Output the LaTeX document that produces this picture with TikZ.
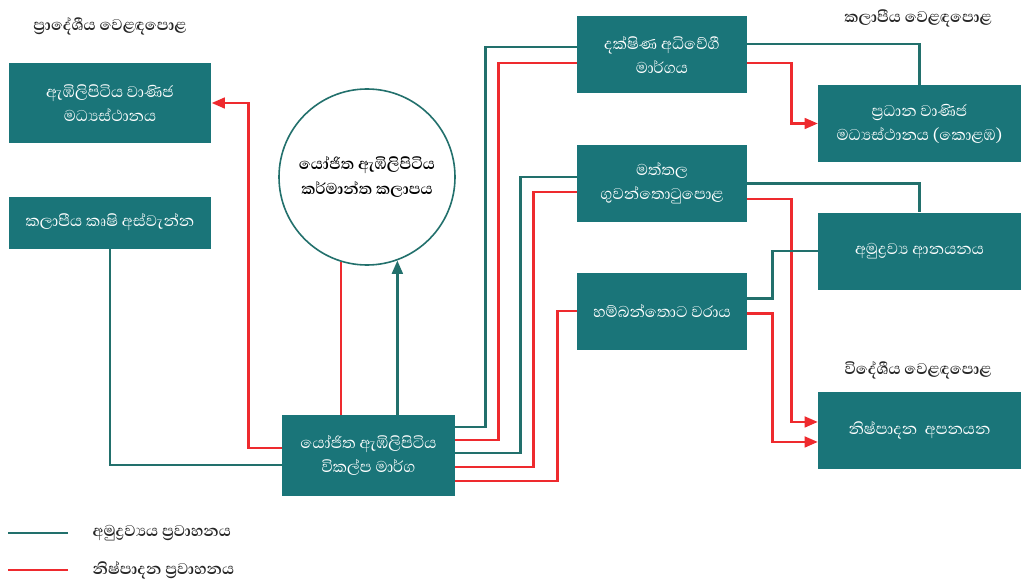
\documentclass[tikz,border=0pt]{standalone}
\usepackage{fontspec}
\newfontfamily\sinhala[Script=Sinhala]{Abhaya Libre}
\usetikzlibrary{arrows.meta,positioning}
\definecolor{boxteal}{HTML}{1A7579}
\definecolor{lineteal}{HTML}{22706C}
\definecolor{flowred}{HTML}{EE2A2E}

\begin{document}
\begin{tikzpicture}[x=0.75pt, y=-0.75pt, font=\sinhala\fontsize{15}{18}\selectfont, >={Triangle[length=10pt,width=8pt]},
hub/.style={fill=boxteal, text=white, minimum width=152pt, minimum height=58pt, align=center},
port/.style={fill=boxteal, text=white, minimum width=127.5pt, minimum height=57.75pt, align=center},
zone/.style={circle, draw=lineteal, line width=1.2pt, minimum size=132pt, align=center, font=\sinhala\bfseries\fontsize{15}{19}\selectfont},
heading/.style={font=\sinhala\bfseries\fontsize{15}{18}\selectfont, text=black!85},
rawflow/.style={draw=lineteal, line width=2pt},
prodflow/.style={draw=flowred, line width=2pt}]
\useasboundingbox (0,0) rectangle (1024,581);
% headings
\node[heading] (regional) at (110,26) {ප්^^^^200dරාදේශීය වෙළඳපොළ};
\node[heading] (zonal) at (918,18) {කලාපීය වෙළඳපොළ};
\node[heading] (foreign) at (918,370) {විදේශීය වෙළඳපොළ};
% left side
\node[hub, minimum height=60pt] (ambilipitiya) at (110,103) {ඇඹිලිපිටිය වාණිජ\\මධ්^^^^200dයස්ථානය};
\node[hub, minimum height=39pt, below=39.75pt of ambilipitiya] (harvest) {කලාපීය කෘෂි අස්වැන්න};
\node[zone] (estate) at (367,177) {යෝජිත ඇඹිලිපිටිය\\කර්මාන්ත කලාපය};
\node[port, minimum width=130pt, minimum height=61pt] (bypass) at (368.5,455.5) {යෝජිත ඇඹිලිපිටිය\\විකල්ප මාර්ග};
% middle column
\node[port] (expressway) at (662,55) {දක්ෂිණ අධිවේගී\\මාර්ගය};
\node[port, below=38.25pt of expressway] (airport) {මත්තල\\ගුවන්තොටුපොළ};
\node[port, below=37.5pt of airport] (harbour) {හම්බන්තොට වරාය};
% right column
\node[hub, minimum height=57.75pt] (colombo) at (919.5,123.5) {ප්^^^^200dරධාන වාණිජ\\මධ්^^^^200dයස්ථානය (කොළඹ)};
\node[hub, minimum height=57.75pt, below=37.5pt of colombo] (imports) {අමුද්^^^^200dරව්^^^^200dය ආනයනය};
\node[hub, minimum height=57.75pt] (exports) at (919.5,430.5) {නිෂ්පාදන\ \ අපනයන};
% legend
\node[heading, anchor=west] (rawkey) at (88,533) {අමුද්^^^^200dරව්^^^^200dයය ප්^^^^200dරවාහනය};
\node[heading, anchor=west] (prodkey) at (88,570) {නිෂ්පාදන ප්^^^^200dරවාහනය};
\draw[rawflow] ([xshift=-15pt]rawkey.west) -- ++(-45pt,0);
\draw[prodflow] ([xshift=-15pt]prodkey.west) -- ++(-45pt,0);
% flows round the bypass
\draw[prodflow, ->] ([yshift=5.6pt]bypass.west) -- ++(-24.75pt,0) |- (ambilipitiya.east);
\draw[rawflow] (harvest.south) |- ([yshift=-7.1pt]bypass.west);
\draw[prodflow] (estate.253) -- (estate.253 |- bypass.north);
\draw[rawflow, ->] (estate.290 |- bypass.north) -- (estate.290);
\draw[rawflow] ([yshift=21.4pt]bypass.east) -- ++(22.5pt,0) |- ([yshift=6pt]expressway.west);
\draw[prodflow] ([yshift=11.6pt]bypass.east) -- ++(32.25pt,0) |- ([yshift=-6pt]expressway.west);
\draw[rawflow] ([yshift=1.9pt]bypass.east) -- ++(48.75pt,0) |- ([yshift=4.9pt]airport.west);
\draw[prodflow] ([yshift=-8.6pt]bypass.east) -- ++(58.5pt,0) |- ([yshift=-6.4pt]airport.west);
\draw[prodflow] ([yshift=-19.1pt]bypass.east) -- ++(76.5pt,0) |- (harbour.west);
% flows to the markets
\draw[rawflow] ([yshift=8.25pt]expressway.east) -| (colombo.north);
\draw[prodflow, ->] ([yshift=-6pt]expressway.east) -- ++(33pt,0) |- (colombo.west);
\draw[rawflow] (airport.east) -| (imports.north);
\draw[prodflow, ->] ([yshift=-11.6pt]airport.east) -- ++(33pt,0) |- ([yshift=6.4pt]exports.west);
\draw[rawflow] ([yshift=9.4pt]harbour.east) -- ++(18.75pt,0) |- (imports.west);
\draw[prodflow, ->] ([yshift=-1.9pt]harbour.east) -- ++(18.75pt,0) |- ([yshift=-8.6pt]exports.west);
\end{tikzpicture}
\end{document}
